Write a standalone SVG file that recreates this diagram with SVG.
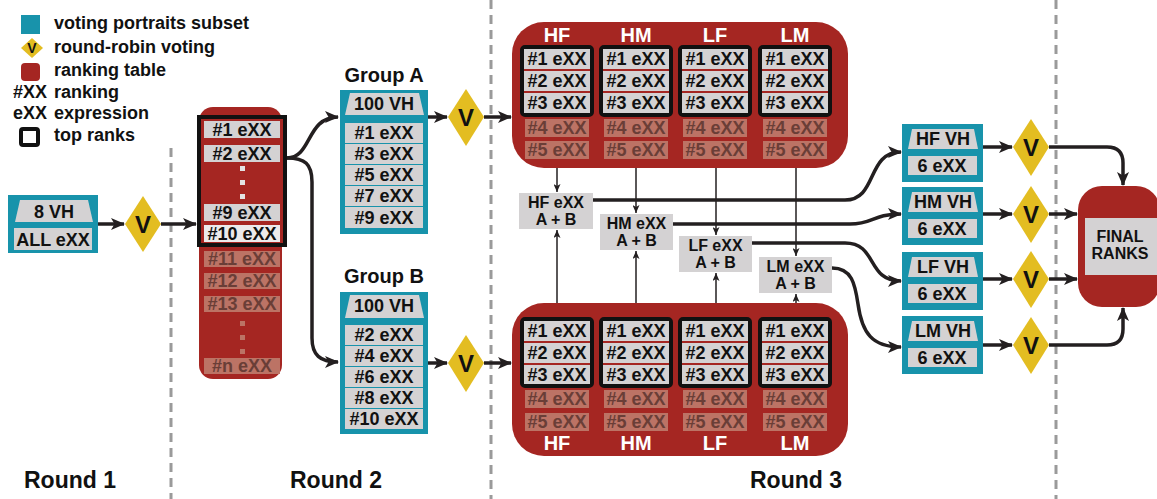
<svg xmlns="http://www.w3.org/2000/svg" width="1157" height="499" viewBox="0 0 1157 499">
<style>
.t{font-family:"Liberation Sans",Arial,sans-serif;font-weight:bold;font-size:18px;fill:#111}
.c{text-anchor:middle}
.w{fill:#fff}
.ft{fill:#6a3e37}
.row{fill:#d4d2d3}
.fade{fill:#bc7365}
.teal{fill:#1893ab}
.red{fill:#a52622}
.dia{fill:#e3bd21}
.conn{fill:none;stroke:#231f20;stroke-width:3.5}
.thin{fill:none;stroke:#231f20;stroke-width:1.5}
.tops{fill:#a52622;stroke:#111;stroke-width:4}
.dash{stroke:#9a9a9a;stroke-width:3;stroke-dasharray:9 6}
.v{font-size:24px}
.m{font-size:16px}
</style>
<defs>
<marker id="ah" markerWidth="14" markerHeight="12" refX="13" refY="6" orient="auto" markerUnits="userSpaceOnUse"><path d="M0,0 L14,6 L0,12 L3.5,6 z" fill="#231f20"/></marker>
<marker id="as" markerWidth="8" markerHeight="7" refX="8" refY="3.5" orient="auto" markerUnits="userSpaceOnUse"><path d="M0,0 L8,3.5 L0,7 L2,3.5 z" fill="#231f20"/></marker>
</defs>

<g id="dividers">
<line class="dash" x1="171" y1="148" x2="171" y2="499"/>
<line class="dash" x1="491" y1="0" x2="491" y2="499"/>
<line class="dash" x1="1056" y1="0" x2="1056" y2="499"/>
</g>

<g id="legend">
<rect class="teal" x="21" y="15" width="19" height="19"/>
<polygon class="dia" points="32,38 43,48 32,58 21,48"/>
<text class="t c" x="32" y="53" style="font-size:14px">V</text>
<rect class="red" x="21" y="63" width="19" height="18" rx="4"/>
<rect x="21" y="129" width="17" height="16" rx="2" fill="none" stroke="#111" stroke-width="4"/>
<text class="t" x="13" y="98">#XX</text>
<text class="t" x="13" y="119">eXX</text>
<text class="t" x="54" y="29">voting portraits subset</text>
<text class="t" x="54" y="53">round-robin voting</text>
<text class="t" x="54" y="76">ranking table</text>
<text class="t" x="54" y="98">ranking</text>
<text class="t" x="54" y="119">expression</text>
<text class="t" x="54" y="141">top ranks</text>
</g>

<g id="round-labels">
<text class="t c" x="70" y="488" style="font-size:23px">Round 1</text>
<text class="t c" x="336" y="488" style="font-size:23px">Round 2</text>
<text class="t c" x="796" y="488" style="font-size:23px">Round 3</text>
</g>

<g id="connectors">
<path class="conn" d="M98,224 H124" marker-end="url(#ah)"/>
<path class="conn" d="M161,224 H196" marker-end="url(#ah)"/>
<path class="conn" d="M287,158 C312,158 306,117 338,117" marker-end="url(#ah)"/>
<path class="conn" d="M287,158 C305,158 312,164 312,182 V338 C312,355 320,362 338,362" marker-end="url(#ah)"/>
<path class="conn" d="M428,117 H447" marker-end="url(#ah)"/>
<path class="conn" d="M484,117 H511" marker-end="url(#ah)"/>
<path class="conn" d="M428,363 H447" marker-end="url(#ah)"/>
<path class="conn" d="M484,363 H511" marker-end="url(#ah)"/>
<path class="thin" d="M557,117 V192" marker-end="url(#as)"/>
<path class="thin" d="M636,117 V213" marker-end="url(#as)"/>
<path class="thin" d="M716,117 V235" marker-end="url(#as)"/>
<path class="thin" d="M796,117 V256" marker-end="url(#as)"/>
<path class="thin" d="M557,317 V230" marker-end="url(#as)"/>
<path class="thin" d="M636,317 V251" marker-end="url(#as)"/>
<path class="thin" d="M716,317 V273" marker-end="url(#as)"/>
<path class="thin" d="M796,317 V294" marker-end="url(#as)"/>
<path class="conn" d="M593,200 H845 C878,200 866,152 901,152" marker-end="url(#ah)"/>
<path class="conn" d="M673,224 H850 C874,224 872,214 901,214" marker-end="url(#ah)"/>
<path class="conn" d="M752,243 H845 C878,243 866,281 901,281" marker-end="url(#ah)"/>
<path class="conn" d="M832,268 C852,268 855,284 858,304 C862,333 872,347 901,347" marker-end="url(#ah)"/>
<path class="conn" d="M983,147 H1012" marker-end="url(#ah)"/>
<path class="conn" d="M983,214 H1012" marker-end="url(#ah)"/>
<path class="conn" d="M983,279 H1012" marker-end="url(#ah)"/>
<path class="conn" d="M983,345 H1012" marker-end="url(#ah)"/>
<path class="conn" d="M1049,147 H1107 Q1123,147 1123,163 V185" marker-end="url(#ah)"/>
<path class="conn" d="M1049,214 H1077" marker-end="url(#ah)"/>
<path class="conn" d="M1049,279 H1077" marker-end="url(#ah)"/>
<path class="conn" d="M1049,345 H1107 Q1123,345 1123,329 V308" marker-end="url(#ah)"/>
</g>

<g id="round1-box">
<rect class="teal" x="8" y="195" width="90" height="58"/>
<polygon class="row" points="20,200 88,200 93,222 15,222"/>
<rect class="row" x="14" y="228" width="78" height="22"/>
<text class="t c" x="54" y="218">8 VH</text>
<text class="t c" x="53" y="246">ALL eXX</text>
</g>

<g id="vote-r1">
<polygon class="dia" points="143,196 161,224 143,252 125,224"/>
<text class="t c v" x="143" y="233">V</text>
</g>

<g id="ranking-table">
<rect class="red" x="199" y="107" width="83" height="272" rx="14"/>
<rect class="tops" x="199" y="117" width="86" height="128"/>
<rect class="row" x="204" y="121" width="76" height="17"/>
<rect class="row" x="204" y="145" width="76" height="17"/>
<rect x="240" y="166" width="5" height="5" fill="#e4e2e3"/>
<rect x="240" y="180" width="5" height="5" fill="#e4e2e3"/>
<rect x="240" y="194" width="5" height="5" fill="#e4e2e3"/>
<rect class="row" x="204" y="204" width="76" height="17"/>
<rect x="204" y="225" width="76" height="17" fill="#eceaeb"/>
<text class="t c" x="242" y="136">#1 eXX</text>
<text class="t c" x="242" y="160">#2 eXX</text>
<text class="t c" x="242" y="219">#9 eXX</text>
<text class="t c" x="242" y="240">#10 eXX</text>
<rect class="fade" x="204" y="251" width="76" height="16"/>
<rect class="fade" x="204" y="273" width="76" height="16"/>
<rect class="fade" x="204" y="296" width="76" height="16"/>
<rect class="fade" x="240" y="321" width="5" height="5"/>
<rect class="fade" x="240" y="335" width="5" height="5"/>
<rect class="fade" x="240" y="349" width="5" height="5"/>
<rect class="fade" x="204" y="358" width="76" height="16"/>
<text class="t c ft" x="242" y="265">#11 eXX</text>
<text class="t c ft" x="242" y="287">#12 eXX</text>
<text class="t c ft" x="242" y="310">#13 eXX</text>
<text class="t c ft" x="242" y="372">#n eXX</text>
</g>

<g id="group-a">
<text class="t c" x="384" y="82" style="font-size:20px">Group A</text>
<rect class="teal" x="340" y="90" width="88" height="144"/>
<polygon class="row" points="350,93 419,93 424,115 345,115"/>
<text class="t c" x="384" y="110">100 VH</text>
<rect class="row" x="345" y="123" width="78" height="20"/>
<rect class="row" x="345" y="144" width="78" height="20"/>
<rect class="row" x="345" y="165" width="78" height="20"/>
<rect class="row" x="345" y="186" width="78" height="20"/>
<rect class="row" x="345" y="207" width="78" height="21"/>
<text class="t c" x="384" y="139">#1 eXX</text>
<text class="t c" x="384" y="160">#3 eXX</text>
<text class="t c" x="384" y="181">#5 eXX</text>
<text class="t c" x="384" y="202">#7 eXX</text>
<text class="t c" x="384" y="224">#9 eXX</text>
</g>

<g id="vote-a">
<polygon class="dia" points="466,89 484,117 466,146 448,117"/>
<text class="t c v" x="466" y="126">V</text>
</g>

<g id="group-b">
<text class="t c" x="384" y="283" style="font-size:20px">Group B</text>
<rect class="teal" x="340" y="292" width="88" height="142"/>
<polygon class="row" points="350,295 419,295 424,318 345,318"/>
<text class="t c" x="384" y="312">100 VH</text>
<rect class="row" x="345" y="325" width="78" height="20"/>
<rect class="row" x="345" y="346" width="78" height="20"/>
<rect class="row" x="345" y="367" width="78" height="20"/>
<rect class="row" x="345" y="388" width="78" height="20"/>
<rect class="row" x="345" y="409" width="78" height="20"/>
<text class="t c" x="384" y="341">#2 eXX</text>
<text class="t c" x="384" y="362">#4 eXX</text>
<text class="t c" x="384" y="383">#6 eXX</text>
<text class="t c" x="384" y="404">#8 eXX</text>
<text class="t c" x="384" y="425">#10 eXX</text>
</g>

<g id="vote-b">
<polygon class="dia" points="466,335 484,363 466,392 448,363"/>
<text class="t c v" x="466" y="372">V</text>
</g>

<g id="table-top">
<rect class="red" x="512" y="22" width="336" height="146" rx="32"/>
<text class="t c w" x="557" y="42" style="font-size:20px">HF</text>
<text class="t c w" x="636" y="42" style="font-size:20px">HM</text>
<text class="t c w" x="715" y="42" style="font-size:20px">LF</text>
<text class="t c w" x="795" y="42" style="font-size:20px">LM</text>
<rect class="tops" x="522" y="47" width="70" height="68" rx="3"/>
<rect class="tops" x="601" y="47" width="70" height="68" rx="3"/>
<rect class="tops" x="680" y="47" width="70" height="68" rx="3"/>
<rect class="tops" x="760" y="47" width="70" height="68" rx="3"/>
<g class="row">
<rect x="524" y="49" width="66" height="20"/><rect x="524" y="71" width="66" height="20"/><rect x="524" y="93" width="66" height="20"/>
<rect x="603" y="49" width="66" height="20"/><rect x="603" y="71" width="66" height="20"/><rect x="603" y="93" width="66" height="20"/>
<rect x="682" y="49" width="66" height="20"/><rect x="682" y="71" width="66" height="20"/><rect x="682" y="93" width="66" height="20"/>
<rect x="762" y="49" width="66" height="20"/><rect x="762" y="71" width="66" height="20"/><rect x="762" y="93" width="66" height="20"/>
</g>
<g class="fade">
<rect x="525" y="119" width="64" height="18"/><rect x="525" y="141" width="64" height="18"/>
<rect x="604" y="119" width="64" height="18"/><rect x="604" y="141" width="64" height="18"/>
<rect x="683" y="119" width="64" height="18"/><rect x="683" y="141" width="64" height="18"/>
<rect x="763" y="119" width="64" height="18"/><rect x="763" y="141" width="64" height="18"/>
</g>
<text class="t c" x="557" y="65">#1 eXX</text><text class="t c" x="557" y="87">#2 eXX</text><text class="t c" x="557" y="109">#3 eXX</text>
<text class="t c" x="636" y="65">#1 eXX</text><text class="t c" x="636" y="87">#2 eXX</text><text class="t c" x="636" y="109">#3 eXX</text>
<text class="t c" x="715" y="65">#1 eXX</text><text class="t c" x="715" y="87">#2 eXX</text><text class="t c" x="715" y="109">#3 eXX</text>
<text class="t c" x="795" y="65">#1 eXX</text><text class="t c" x="795" y="87">#2 eXX</text><text class="t c" x="795" y="109">#3 eXX</text>
<text class="t c ft" x="557" y="134">#4 eXX</text><text class="t c ft" x="557" y="156">#5 eXX</text>
<text class="t c ft" x="636" y="134">#4 eXX</text><text class="t c ft" x="636" y="156">#5 eXX</text>
<text class="t c ft" x="715" y="134">#4 eXX</text><text class="t c ft" x="715" y="156">#5 eXX</text>
<text class="t c ft" x="795" y="134">#4 eXX</text><text class="t c ft" x="795" y="156">#5 eXX</text>
</g>

<g id="table-bottom">
<rect class="red" x="512" y="303" width="336" height="153" rx="32"/>
<rect class="tops" x="522" y="319" width="70" height="67" rx="3"/>
<rect class="tops" x="601" y="319" width="70" height="67" rx="3"/>
<rect class="tops" x="680" y="319" width="70" height="67" rx="3"/>
<rect class="tops" x="760" y="319" width="70" height="67" rx="3"/>
<g class="row">
<rect x="524" y="321" width="66" height="20"/><rect x="524" y="343" width="66" height="20"/><rect x="524" y="365" width="66" height="19"/>
<rect x="603" y="321" width="66" height="20"/><rect x="603" y="343" width="66" height="20"/><rect x="603" y="365" width="66" height="19"/>
<rect x="682" y="321" width="66" height="20"/><rect x="682" y="343" width="66" height="20"/><rect x="682" y="365" width="66" height="19"/>
<rect x="762" y="321" width="66" height="20"/><rect x="762" y="343" width="66" height="20"/><rect x="762" y="365" width="66" height="19"/>
</g>
<g class="fade">
<rect x="525" y="390" width="64" height="18"/><rect x="525" y="413" width="64" height="18"/>
<rect x="604" y="390" width="64" height="18"/><rect x="604" y="413" width="64" height="18"/>
<rect x="683" y="390" width="64" height="18"/><rect x="683" y="413" width="64" height="18"/>
<rect x="763" y="390" width="64" height="18"/><rect x="763" y="413" width="64" height="18"/>
</g>
<text class="t c" x="557" y="337">#1 eXX</text><text class="t c" x="557" y="359">#2 eXX</text><text class="t c" x="557" y="381">#3 eXX</text>
<text class="t c" x="636" y="337">#1 eXX</text><text class="t c" x="636" y="359">#2 eXX</text><text class="t c" x="636" y="381">#3 eXX</text>
<text class="t c" x="715" y="337">#1 eXX</text><text class="t c" x="715" y="359">#2 eXX</text><text class="t c" x="715" y="381">#3 eXX</text>
<text class="t c" x="795" y="337">#1 eXX</text><text class="t c" x="795" y="359">#2 eXX</text><text class="t c" x="795" y="381">#3 eXX</text>
<text class="t c ft" x="557" y="405">#4 eXX</text><text class="t c ft" x="557" y="428">#5 eXX</text>
<text class="t c ft" x="636" y="405">#4 eXX</text><text class="t c ft" x="636" y="428">#5 eXX</text>
<text class="t c ft" x="715" y="405">#4 eXX</text><text class="t c ft" x="715" y="428">#5 eXX</text>
<text class="t c ft" x="795" y="405">#4 eXX</text><text class="t c ft" x="795" y="428">#5 eXX</text>
<text class="t c w" x="557" y="450" style="font-size:20px">HF</text>
<text class="t c w" x="636" y="450" style="font-size:20px">HM</text>
<text class="t c w" x="715" y="450" style="font-size:20px">LF</text>
<text class="t c w" x="795" y="450" style="font-size:20px">LM</text>
</g>

<g id="merge-hf">
<rect class="row" x="519" y="193" width="74" height="36"/>
<text class="t c m" x="556" y="208">HF eXX</text>
<text class="t c m" x="556" y="225">A + B</text>
</g>
<g id="merge-hm">
<rect class="row" x="600" y="214" width="73" height="36"/>
<text class="t c m" x="636.5" y="229">HM eXX</text>
<text class="t c m" x="636.5" y="246">A + B</text>
</g>
<g id="merge-lf">
<rect class="row" x="679" y="236" width="73" height="36"/>
<text class="t c m" x="715.5" y="251">LF eXX</text>
<text class="t c m" x="715.5" y="268">A + B</text>
</g>
<g id="merge-lm">
<rect class="row" x="759" y="257" width="73" height="36"/>
<text class="t c m" x="795.5" y="272">LM eXX</text>
<text class="t c m" x="795.5" y="289">A + B</text>
</g>

<g id="vh-hf">
<rect class="teal" x="902" y="124" width="81" height="58"/>
<polygon class="row" points="912,129 974,129 978,149 908,149"/>
<rect class="row" x="908" y="156" width="69" height="19"/>
<text class="t c" x="943" y="145">HF VH</text>
<text class="t c" x="942" y="172">6 eXX</text>
</g>
<g id="vh-hm">
<rect class="teal" x="902" y="187" width="81" height="58"/>
<polygon class="row" points="912,192 974,192 978,212 908,212"/>
<rect class="row" x="908" y="219" width="69" height="19"/>
<text class="t c" x="943" y="208">HM VH</text>
<text class="t c" x="942" y="235">6 eXX</text>
</g>
<g id="vh-lf">
<rect class="teal" x="902" y="252" width="81" height="58"/>
<polygon class="row" points="912,257 974,257 978,277 908,277"/>
<rect class="row" x="908" y="284" width="69" height="19"/>
<text class="t c" x="943" y="273">LF VH</text>
<text class="t c" x="942" y="300">6 eXX</text>
</g>
<g id="vh-lm">
<rect class="teal" x="902" y="316" width="81" height="58"/>
<polygon class="row" points="912,321 974,321 978,341 908,341"/>
<rect class="row" x="908" y="348" width="69" height="19"/>
<text class="t c" x="943" y="337">LM VH</text>
<text class="t c" x="942" y="364">6 eXX</text>
</g>

<g id="vote-hf"><polygon class="dia" points="1031,119 1049,147 1031,176 1013,147"/><text class="t c v" x="1031" y="156">V</text></g>
<g id="vote-hm"><polygon class="dia" points="1031,186 1049,214 1031,243 1013,214"/><text class="t c v" x="1031" y="223">V</text></g>
<g id="vote-lf"><polygon class="dia" points="1031,251 1049,279 1031,308 1013,279"/><text class="t c v" x="1031" y="288">V</text></g>
<g id="vote-lm"><polygon class="dia" points="1031,317 1049,345 1031,374 1013,345"/><text class="t c v" x="1031" y="354">V</text></g>

<g id="final-ranks">
<rect class="red" x="1078" y="186" width="82" height="121" rx="24"/>
<rect class="row" x="1085" y="218" width="72" height="57"/>
<text class="t c m" x="1120" y="242">FINAL</text>
<text class="t c m" x="1120" y="259">RANKS</text>
</g>
</svg>
